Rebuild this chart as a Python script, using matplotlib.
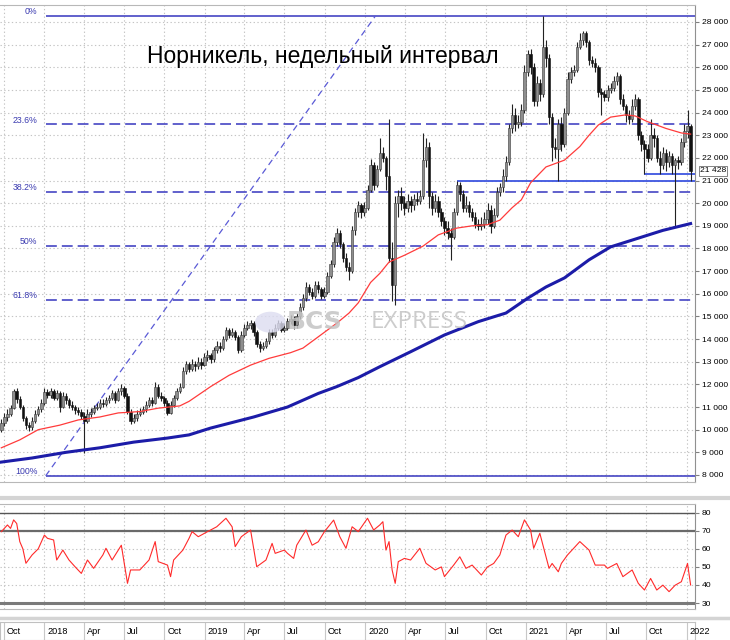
import numpy as np
import pandas as pd
import matplotlib
matplotlib.use("Agg")
import matplotlib.pyplot as plt
import matplotlib.dates as mdates
from matplotlib.lines import Line2D
from matplotlib.patches import Circle
from matplotlib.ticker import FuncFormatter

plt.rcParams['font.family'] = ['Liberation Sans', 'DejaVu Sans']

# weekly candles, prices in thousands of rubles
weeks = pd.date_range("2017-09-25", periods=225, freq="W-MON")
first_open = 10.0
closes = [
    10.30, 10.55, 10.70, 10.95, 11.70, 11.35, 11.00, 10.50, 10.20, 10.10, 10.40, 10.70, 10.90, 11.20, 11.65,
    11.55, 11.70, 11.40, 11.60, 11.00, 11.50, 11.30, 11.10, 11.00, 10.85, 10.80, 10.60, 10.40, 10.70, 10.80,
    10.95, 11.00, 11.20, 11.15, 11.30, 11.40, 11.60, 11.30, 11.70, 11.85, 11.50, 10.80, 10.40, 10.50, 10.70,
    10.80, 10.90, 11.10, 11.30, 11.20, 11.90, 11.50, 11.40, 11.20, 10.75, 11.10, 11.40, 11.70, 11.90, 12.60,
    12.90, 12.70, 12.90, 12.80, 13.00, 12.85, 13.20, 13.30, 13.10, 13.50, 13.70, 13.60, 14.00, 14.40, 14.20,
    14.30, 14.10, 13.50, 14.20, 14.50, 14.60, 14.70, 14.30, 13.80, 13.60, 13.70, 13.90, 14.30, 14.20, 14.50,
    14.70, 14.40, 14.50, 14.80, 14.90, 14.60, 15.00, 15.40, 15.80, 16.30, 16.10, 15.90, 16.40, 16.20, 15.90,
    16.10, 16.80, 17.30, 18.30, 18.70, 18.20, 17.60, 17.20, 17.00, 18.80, 19.60, 19.90, 19.60, 19.80, 20.60,
    21.70, 20.80, 21.50, 22.20, 22.00, 21.20, 17.60, 16.40, 20.00, 20.30, 20.00, 19.80, 20.10, 19.90, 20.20,
    20.10, 20.30, 21.90, 22.50, 20.30, 19.80, 20.10, 19.60, 19.20, 18.90, 18.70, 18.50, 19.60, 20.80, 20.40,
    19.80, 19.90, 19.60, 19.40, 19.10, 19.00, 19.10, 19.30, 19.70, 19.00, 19.50, 20.50, 20.70, 21.20, 21.80,
    23.30, 23.90, 23.50, 23.60, 24.10, 25.80, 26.60, 26.00, 24.50, 25.30, 24.80, 26.90, 26.40, 23.80, 22.50,
    22.40, 23.50, 22.60, 24.00, 25.50, 25.80, 25.90, 26.90, 27.20, 27.50, 27.10, 26.30, 26.20, 26.00, 24.90,
    24.80, 24.70, 25.00, 25.10, 25.40, 25.60, 24.60, 24.30, 23.90, 23.70, 24.30, 24.60, 23.00, 22.60, 22.40,
    22.00, 23.00, 22.90, 22.00, 21.70, 22.20, 21.80, 22.10, 21.70, 21.90, 21.80, 22.70, 23.20, 23.40, 21.428,
]
highs = [
    10.45, 10.75, 10.90, 11.10, 11.80, 11.85, 11.50, 11.10, 10.60, 10.35, 10.55, 10.85, 11.05, 11.35, 11.85,
    11.80, 11.85, 11.80, 11.75, 11.70, 11.65, 11.60, 11.40, 11.25, 11.10, 11.00, 10.90, 10.80, 10.90, 10.95,
    11.10, 11.20, 11.35, 11.35, 11.45, 11.55, 11.75, 11.70, 11.85, 12.00, 11.95, 11.60, 10.90, 10.70, 10.85,
    10.95, 11.05, 11.25, 11.45, 11.45, 12.10, 12.00, 11.65, 11.50, 11.30, 11.25, 11.55, 11.85, 12.05, 12.75,
    13.05, 13.00, 13.10, 13.05, 13.20, 13.15, 13.40, 13.50, 13.40, 13.65, 13.90, 13.85, 14.15, 14.55, 14.50,
    14.50, 14.40, 14.20, 14.35, 14.65, 14.80, 14.85, 14.80, 14.40, 13.90, 13.85, 14.05, 14.45, 14.45, 14.65,
    14.85, 14.80, 14.70, 14.95, 15.05, 15.00, 15.15, 15.60, 16.00, 16.50, 16.45, 16.25, 16.55, 16.55, 16.30,
    16.30, 16.95, 17.50, 18.50, 18.90, 18.80, 18.30, 17.80, 17.40, 19.00, 19.80, 20.10, 20.00, 20.05, 20.80,
    21.95, 21.80, 21.70, 22.90, 22.50, 22.10, 23.70, 18.30, 20.30, 20.60, 20.70, 20.30, 20.40, 20.30, 20.40,
    20.50, 20.60, 23.10, 22.90, 22.70, 20.50, 20.40, 20.30, 19.80, 19.40, 19.20, 18.90, 19.80, 21.00, 20.95,
    20.60, 20.30, 20.10, 19.80, 19.60, 19.30, 19.40, 19.60, 20.00, 19.90, 19.80, 20.70, 20.90, 21.50, 22.10,
    23.50, 24.40, 24.20, 23.90, 24.40, 26.10, 26.75, 26.80, 26.20, 25.60, 25.50, 28.25, 27.20, 26.60, 24.00,
    22.90, 23.70, 23.80, 24.20, 25.80, 26.00, 26.10, 27.10, 27.50, 27.60, 27.60, 27.20, 26.50, 26.40, 26.10,
    25.10, 25.00, 25.20, 25.30, 25.60, 25.80, 25.70, 24.80, 24.40, 24.10, 24.60, 24.80, 24.70, 23.20, 22.80,
    22.60, 23.70, 23.30, 23.00, 22.30, 22.50, 22.40, 22.30, 22.20, 22.00, 22.10, 22.90, 23.50, 24.10, 23.50,
]
lows = [
    9.90, 10.15, 10.40, 10.60, 10.90, 11.20, 10.90, 10.40, 10.05, 9.95, 10.00, 10.30, 10.60, 10.80, 11.10,
    11.40, 11.40, 11.30, 11.30, 10.80, 10.95, 11.15, 10.95, 10.85, 10.70, 10.65, 10.45, 8.95, 10.30, 10.55,
    10.70, 10.85, 10.90, 11.00, 11.05, 11.20, 11.30, 11.20, 11.25, 11.55, 11.40, 10.70, 10.25, 10.30, 10.40,
    10.60, 10.70, 10.80, 11.00, 11.05, 11.15, 11.40, 11.25, 11.05, 10.65, 10.70, 11.00, 11.30, 11.60, 11.85,
    12.45, 12.55, 12.60, 12.60, 12.70, 12.70, 12.80, 13.05, 12.95, 13.00, 13.40, 13.45, 13.50, 13.90, 14.05,
    14.10, 13.95, 13.40, 13.45, 14.10, 14.40, 14.45, 14.15, 13.65, 13.45, 13.50, 13.60, 13.80, 14.05, 14.10,
    14.40, 14.30, 14.30, 14.40, 14.65, 14.45, 14.50, 14.90, 15.30, 15.70, 15.95, 15.75, 15.80, 16.05, 15.75,
    15.80, 16.00, 16.70, 17.20, 18.10, 18.00, 17.40, 17.00, 16.60, 16.90, 18.60, 19.40, 19.35, 19.45, 19.70,
    20.50, 20.60, 20.70, 21.40, 21.80, 20.60, 17.40, 15.70, 15.50, 19.40, 19.70, 19.50, 19.60, 19.60, 19.70,
    19.90, 19.95, 20.20, 21.60, 19.80, 19.50, 19.60, 19.40, 19.00, 18.60, 18.40, 17.50, 18.40, 19.50, 20.10,
    19.60, 19.60, 19.40, 19.20, 18.90, 18.80, 18.80, 18.90, 19.10, 18.70, 18.90, 19.40, 20.30, 20.50, 21.00,
    21.70, 23.10, 23.20, 23.30, 23.40, 24.00, 25.60, 25.70, 24.30, 24.30, 24.50, 24.70, 26.00, 23.50, 21.85,
    22.00, 21.00, 22.30, 22.50, 23.90, 25.30, 25.60, 25.80, 26.80, 27.00, 26.90, 26.10, 26.00, 25.80, 24.70,
    23.90, 24.50, 24.50, 24.85, 24.95, 25.20, 24.40, 24.10, 23.60, 23.50, 23.60, 24.10, 22.80, 22.30, 21.28,
    21.80, 21.90, 22.50, 21.80, 21.30, 21.50, 21.40, 21.60, 21.30, 19.00, 21.50, 21.70, 22.50, 22.90, 21.00,
]

# moving averages (week index -> thousands)
ma_red_idx = [0, 6, 12, 19, 25, 32, 38, 45, 51, 58, 61, 68, 74, 81, 87, 94, 98, 103, 109, 113, 116, 120,
              123, 126, 131, 137, 142, 148, 153, 158, 162, 166, 169, 172, 177, 183, 188, 191, 194, 198, 203,
              206, 210, 216, 221, 224]
ma_red = [9.20, 9.55, 10.00, 10.20, 10.43, 10.56, 10.74, 10.80, 10.95, 11.05, 11.25, 11.90, 12.40, 12.85,
          13.15, 13.40, 13.60, 14.10, 14.70, 15.15, 15.60, 16.50, 16.90, 17.40, 17.70, 18.10, 18.60, 18.90,
          19.00, 19.05, 19.25, 19.80, 20.15, 20.90, 21.60, 21.90, 22.50, 23.00, 23.45, 23.80, 23.90, 23.85,
          23.60, 23.30, 23.10, 23.05]
ma_blue_idx = [0, 10, 21, 32, 43, 54, 61, 68, 82, 93, 103, 109, 116, 123, 133, 144, 155, 164, 171, 177,
               183, 191, 198, 205, 215, 224]
ma_blue = [8.57, 8.75, 9.00, 9.20, 9.45, 9.63, 9.77, 10.07, 10.56, 11.00, 11.60, 11.90, 12.30, 12.78,
           13.44, 14.18, 14.77, 15.15, 15.80, 16.30, 16.70, 17.50, 18.07, 18.37, 18.80, 19.10]

# RSI
rsi_idx = [0, 2, 3, 4, 5, 6, 7, 8, 10, 12, 14, 15, 17, 18, 20, 22, 24, 26, 28, 30, 33, 34, 36, 39, 41,
           42, 45, 48, 50, 51, 54, 55, 56, 59, 61, 62, 64, 67, 70, 73, 75, 76, 78, 81, 83, 86, 88, 89, 92,
           93, 95, 96, 99, 101, 103, 105, 108, 110, 112, 114, 116, 119, 121, 123, 124, 125, 126, 127, 128,
           129, 131, 133, 136, 138, 141, 143, 144, 147, 149, 151, 153, 156, 158, 160, 162, 164, 166, 168,
           170, 172, 173, 175, 178, 179, 181, 182, 184, 186, 188, 191, 193, 196, 197, 200, 202, 205, 207,
           209, 211, 213, 215, 217, 219, 221, 223, 224]
rsi_vals = [69.5, 73.2, 71.3, 76, 74, 64, 60, 52, 56.6, 60, 67.6, 65.8, 64.9, 53.8, 59.3, 53.8, 50, 46.4,
            53.8, 49.2, 56.6, 60.3, 53.8, 62, 40.9, 48.3, 48.3, 53.8, 64, 52.9, 51, 44.6, 53.8, 59.3, 65.8,
            69.5, 66.7, 69.5, 72.2, 76.9, 72.2, 61.2, 66.7, 70.4, 50.1, 53.8, 63, 57.5, 59.3, 57.5, 54.7,
            62, 70.4, 62, 63.9, 69.5, 75.9, 66.7, 60.3, 72.2, 69.5, 76.9, 70.4, 73.2, 75, 59.3, 64, 48.3,
            40.9, 52.9, 54.7, 53.8, 60.3, 52, 48.3, 50, 44.6, 51, 55.6, 49.2, 51, 45.5, 50, 51.9, 56.6, 67.6,
            70.4, 66.7, 76, 70.4, 60.3, 68.6, 49.2, 51.9, 47.3, 51.9, 56.6, 60.3, 64, 59.3, 51, 51, 49.2,
            51.9, 44.6, 48.3, 40.9, 37.2, 43.6, 37.2, 39.9, 36.3, 39.9, 41.8, 51.9, 40]
rsi_lines = [80, 70, 30]

# Fibonacci grid and levels
fib_hi = 28265
fib_lo = 7965
fib_levels = [0, 23.6, 38.2, 50, 61.8, 100]
fib_labels = ["0%", "23.6%", "38.2%", "50%", "61.8%", "100%"]
fib_start = "2018-01-04"
trend_end = "2020-01-24"
support_main, support_main_from = 21000, 148
support_short, support_short_from = 21280, 209
last_price = 21428

title = "Норникель, недельный интервал"

W, H = 730, 640
fig = plt.figure(figsize=(7.3, 6.4), dpi=100)


def box(l, t, r, b):
    return [l / W, 1 - b / H, (r - l) / W, (b - t) / H]


ax = fig.add_axes(box(0, 5, 695, 482))
ax_rsi = fig.add_axes(box(0, 504, 695, 609))
ax_dt = fig.add_axes(box(0, 622, 695, 640))

x0 = mdates.date2num(pd.Timestamp("2017-09-22"))
x1 = mdates.date2num(pd.Timestamp("2022-01-20"))
xd = mdates.date2num(weeks)
qdates = pd.date_range("2017-10-01", "2022-01-01", freq="QS")
qnum = mdates.date2num(qdates)
grid_kw = dict(color="#c4c4c4", lw=0.8, linestyle=(0, (1.2, 2.2)))
tick_font = 6.1

# ---- price panel
c = np.array(closes) * 1000
o = np.concatenate([[first_open], closes[:-1]]) * 1000
h = np.maximum(np.array(highs) * 1000, np.maximum(o, c))
l = np.minimum(np.array(lows) * 1000, np.minimum(o, c))
up = c >= o

ax.vlines(xd, l, h, color="#222222", lw=0.8, zorder=4)
ax.bar(xd[up], np.maximum(c[up] - o[up], 25), bottom=o[up], width=5.6,
       color="#8e8e8e", edgecolor="#3a3a3a", lw=0.4, zorder=5)
ax.bar(xd[~up], o[~up] - c[~up], bottom=c[~up], width=5.6,
       color="#111111", edgecolor="#111111", lw=0.4, zorder=5)

ax.plot(xd[ma_red_idx], np.array(ma_red) * 1000, color="#ff3b3b", lw=0.9, zorder=6)
ax.plot(xd[ma_blue_idx], np.array(ma_blue) * 1000, color="#1c1ca8", lw=2.2, zorder=6)

fx0 = mdates.date2num(pd.Timestamp(fib_start))
for lev, lab in zip(fib_levels, fib_labels):
    p = fib_hi - lev / 100 * (fib_hi - fib_lo)
    ls = "-" if lev in (0, 100) else (0, (6.5, 3))
    ax.hlines(p, fx0, x1, color="#4646c4", lw=1.2, linestyle=ls, zorder=3)
    ax.annotate(lab, xy=(fx0, p), xytext=(-6, 3), textcoords="offset points",
                ha="right", va="center", fontsize=6.3, color="#3a3ab0")

ax.plot([fx0, mdates.date2num(pd.Timestamp(trend_end))], [fib_lo, fib_hi],
        color="#5a5ad6", lw=0.9, linestyle=(0, (5, 3.5)), zorder=3)

ax.hlines(support_main, xd[support_main_from], x1, color="#3d55e0", lw=1.3, zorder=3)
ax.hlines(support_short, xd[support_short_from], x1, color="#3d55e0", lw=1.3, zorder=3)

ax.text(0.464, 0.891, title, transform=ax.transAxes, ha="center", va="center",
        fontsize=16.5, color="black", zorder=8)

# watermark
ax.add_patch(Circle((0.389, 0.335), 0.022, transform=ax.transAxes, facecolor="#dcdcf0",
                    edgecolor="none", alpha=0.8, zorder=7))
ax.text(0.412, 0.335, "BCS", transform=ax.transAxes, ha="left", va="center", fontsize=18,
        fontweight="bold", color="#c4c4c4", alpha=0.85, zorder=7, family=["DejaVu Sans"])
ax.text(0.533, 0.335, "EXPRESS", transform=ax.transAxes, ha="left", va="center", fontsize=17.5,
        color="#c4c4c4", alpha=0.85, zorder=7, family=["Open Sans", "DejaVu Sans"])

ax.set_xlim(x0, x1)
ax.set_ylim(7690, 28750)
ax.set_xticks(qnum)
ax.set_yticks(np.arange(8000, 28001, 1000))
ax.yaxis.tick_right()
ax.yaxis.set_major_formatter(FuncFormatter(lambda v, _: f"{v:,.0f}".replace(",", " ")))
ax.tick_params(axis="x", length=0, labelbottom=False)
ax.tick_params(axis="y", labelsize=tick_font, length=3, pad=2, color="#808080")
ax.grid(True, **grid_kw)
ax.set_axisbelow(True)
ax.spines["left"].set_visible(False)
for s in ("top", "bottom"):
    ax.spines[s].set_color("#b8b8b8")
ax.spines["right"].set_color("#909090")

ax.annotate(f"{last_price:,}".replace(",", " "), xy=(1, last_price), xycoords=ax.get_yaxis_transform(),
            xytext=(3.5, 0), textcoords="offset points", ha="left", va="center", fontsize=tick_font,
            bbox=dict(boxstyle="square,pad=0.15", fc="white", ec="#707070", lw=0.6), zorder=9)

# ---- RSI panel
ax_rsi.plot(xd[rsi_idx], rsi_vals, color="#ff2a2a", lw=0.8, zorder=4)
for lev, lw, col in zip(rsi_lines, [1.0, 1.6, 2.2], ["#555555", "#6a6a6a", "#7a7a7a"]):
    ax_rsi.axhline(lev, color=col, lw=lw, zorder=3)
ax_rsi.set_xlim(x0, x1)
ax_rsi.set_ylim(26.7, 84.8)
ax_rsi.set_xticks(qnum)
ax_rsi.set_yticks(np.arange(30, 81, 10))
ax_rsi.yaxis.tick_right()
ax_rsi.tick_params(axis="x", length=0, labelbottom=False)
ax_rsi.tick_params(axis="y", labelsize=tick_font, length=3, pad=2, color="#808080")
ax_rsi.grid(True, **grid_kw)
ax_rsi.spines["left"].set_visible(False)
for s in ("top", "bottom"):
    ax_rsi.spines[s].set_color("#b8b8b8")
ax_rsi.spines["right"].set_color("#909090")

# ---- date strip
ax_dt.set_xlim(x0, x1)
ax_dt.set_ylim(0, 1)
ax_dt.set_xticks([])
ax_dt.set_yticks([])
for q, qd in zip(qnum, qdates):
    ax_dt.axvline(q, color="#c8c8c8", lw=0.8)
    lab = str(qd.year) if qd.month == 1 else qd.strftime("%b")
    ax_dt.annotate(lab, xy=(q, 0.5), xycoords=("data", "axes fraction"), xytext=(2, 0),
                   textcoords="offset points", ha="left", va="center", fontsize=6.6)
for s in ax_dt.spines.values():
    s.set_color("#c0c0c0")

# panel separators
for yy, lw in [(498, 3), (618, 2.5)]:
    fig.add_artist(Line2D([0, 1], [1 - yy / H] * 2, transform=fig.transFigure,
                          color="#d4d4d4", lw=lw))

fig.savefig("out.png", dpi=100, facecolor="white")
